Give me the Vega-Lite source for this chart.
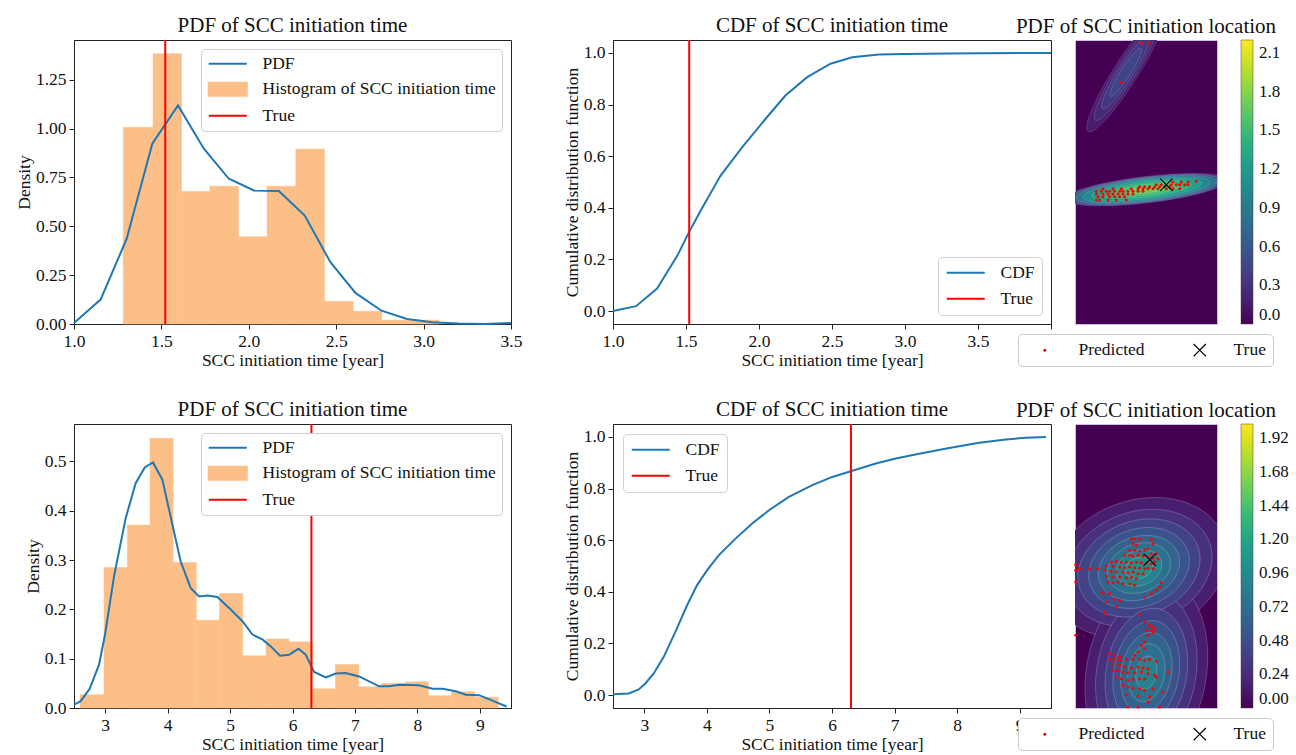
{
  "$schema": "https://vega.github.io/schema/vega-lite/v6.json",
  "padding": {"left": 14, "top": 14, "right": 0, "bottom": 0},
  "background": "white",
  "config": {
    "font": "Liberation Serif",
    "view": {"stroke": "#222", "strokeWidth": 1},
    "axis": {"labelFont": "Liberation Serif", "labelFontSize": 17.5, "labelColor": "#111", "titleFont": "Liberation Serif", "titleFontSize": 17.5, "titleFontWeight": "normal", "titleColor": "#111", "grid": false, "tickColor": "#222", "domainColor": "#222", "tickSize": 5, "labelPadding": 3, "labelFlush": false, "labelOverlap": false, "titlePadding": 2},
    "title": {"font": "Liberation Serif", "fontSize": 21, "fontWeight": "normal", "color": "#111", "anchor": "middle", "offset": 3.5},
    "legend": {"labelFont": "Liberation Serif", "labelFontSize": 17.5, "labelColor": "#111", "labelLimit": 400}
  },
  "columns": 4,
  "spacing": {"row": 100, "column": 24},
  "bounds": "flush",
  "resolve": {
    "scale": {"x": "independent", "y": "independent", "color": "independent", "shape": "independent", "size": "independent"},
    "legend": {"color": "independent", "shape": "independent", "size": "independent"}
  },
  "concat": [
    {
      "width": 437, "height": 284,
      "title": "PDF of SCC initiation time",
      "layer": [
        {
          "data": {"values": [
            {"lo": 1.282, "hi": 1.452, "density": 1.006},
            {"lo": 1.452, "hi": 1.615, "density": 1.383},
            {"lo": 1.615, "hi": 1.777, "density": 0.678},
            {"lo": 1.777, "hi": 1.941, "density": 0.705},
            {"lo": 1.941, "hi": 2.105, "density": 0.447},
            {"lo": 2.105, "hi": 2.269, "density": 0.705},
            {"lo": 2.269, "hi": 2.433, "density": 0.895},
            {"lo": 2.433, "hi": 2.597, "density": 0.116},
            {"lo": 2.597, "hi": 2.761, "density": 0.065},
            {"lo": 2.761, "hi": 2.925, "density": 0.020},
            {"lo": 2.925, "hi": 3.088, "density": 0.020}
          ]},
          "mark": {"type": "rect", "stroke": "#fdbf88", "strokeWidth": 0.5},
          "encoding": {
            "x": {"field": "lo", "type": "quantitative", "scale": {"domain": [1, 3.5], "nice": false, "zero": false}, "axis": {"title": "SCC initiation time [year]", "values": [1, 1.5, 2, 2.5, 3, 3.5], "format": ".1f"}},
            "x2": {"field": "hi"},
            "y": {"field": "density", "type": "quantitative", "scale": {"domain": [0, 1.453], "nice": false}, "axis": {"title": "Density", "values": [0, 0.25, 0.5, 0.75, 1, 1.25], "format": ".2f"}},
            "y2": {"datum": 0},
            "color": {"datum": "Histogram of SCC initiation time", "type": "nominal",
              "scale": {"domain": ["PDF", "Histogram of SCC initiation time", "True"], "range": ["#1f77b4", "#fdbf88", "#ff0000"]},
              "legend": {"title": null, "orient": "top-right", "offset": 9, "symbolType": "M -1 0 L 4.43 0", "symbolSize": 196, "symbolStrokeWidth": 2, "labelOffset": 38, "rowPadding": 5.5, "padding": 6, "fillColor": "white", "strokeColor": "#d0d0d0", "cornerRadius": 4, "labelFontSize": 17.5,
                "encode": {"symbols": {"update": {
                  "shape": {"signal": "datum.value === 'Histogram of SCC initiation time' ? 'M -1 -0.93 L 4.43 -0.93 L 4.43 0.93 L -1 0.93 Z' : 'M -1 0 L 4.43 0'"},
                  "fill": {"signal": "datum.value === 'Histogram of SCC initiation time' ? '#fdbf88' : 'transparent'"},
                  "stroke": {"signal": "datum.value === 'PDF' ? '#1f77b4' : (datum.value === 'True' ? '#ff0000' : 'transparent')"},
                  "strokeWidth": {"value": 2},
                  "opacity": {"value": 1}
                }}}
              }
            }
          }
        },
        {
          "data": {"values": [
            {"t": 1.0, "pdf": 0.005}, {"t": 1.152, "pdf": 0.125}, {"t": 1.301, "pdf": 0.435}, {"t": 1.448, "pdf": 0.922},
            {"t": 1.595, "pdf": 1.118}, {"t": 1.743, "pdf": 0.897}, {"t": 1.886, "pdf": 0.743}, {"t": 2.029, "pdf": 0.683},
            {"t": 2.172, "pdf": 0.680}, {"t": 2.320, "pdf": 0.555}, {"t": 2.467, "pdf": 0.316}, {"t": 2.610, "pdf": 0.159},
            {"t": 2.759, "pdf": 0.068}, {"t": 2.905, "pdf": 0.026}, {"t": 3.048, "pdf": 0.009}, {"t": 3.200, "pdf": 0.002},
            {"t": 3.350, "pdf": 0.0}, {"t": 3.500, "pdf": 0.005}
          ]},
          "mark": {"type": "line", "strokeWidth": 2},
          "encoding": {
            "x": {"field": "t", "type": "quantitative", "title": "SCC initiation time [year]", "scale": {"domain": [1, 3.5], "nice": false, "zero": false}},
            "y": {"field": "pdf", "type": "quantitative", "title": "Density", "scale": {"domain": [0, 1.453], "nice": false}},
            "color": {"datum": "PDF", "type": "nominal",
              "legend": {"title": null, "orient": "top-right", "offset": 9, "symbolType": "M -1 0 L 4.43 0", "symbolSize": 196, "symbolStrokeWidth": 2, "labelOffset": 38, "rowPadding": 5.5, "padding": 6, "fillColor": "white", "strokeColor": "#d0d0d0", "cornerRadius": 4, "labelFontSize": 17.5,
                "encode": {"symbols": {"update": {
                  "shape": {"signal": "datum.value === 'Histogram of SCC initiation time' ? 'M -1 -0.93 L 4.43 -0.93 L 4.43 0.93 L -1 0.93 Z' : 'M -1 0 L 4.43 0'"},
                  "fill": {"signal": "datum.value === 'Histogram of SCC initiation time' ? '#fdbf88' : 'transparent'"},
                  "stroke": {"signal": "datum.value === 'PDF' ? '#1f77b4' : (datum.value === 'True' ? '#ff0000' : 'transparent')"},
                  "strokeWidth": {"value": 2},
                  "opacity": {"value": 1}
                }}}
              }
            }
          }
        },
        {
          "data": {"values": [{"t": 1.522}]},
          "mark": {"type": "rule", "strokeWidth": 2},
          "encoding": {
            "x": {"field": "t", "type": "quantitative", "title": "SCC initiation time [year]"},
            "color": {"datum": "True", "type": "nominal",
              "legend": {"title": null, "orient": "top-right", "offset": 9, "symbolType": "M -1 0 L 4.43 0", "symbolSize": 196, "symbolStrokeWidth": 2, "labelOffset": 38, "rowPadding": 5.5, "padding": 6, "fillColor": "white", "strokeColor": "#d0d0d0", "cornerRadius": 4, "labelFontSize": 17.5,
                "encode": {"symbols": {"update": {
                  "shape": {"signal": "datum.value === 'Histogram of SCC initiation time' ? 'M -1 -0.93 L 4.43 -0.93 L 4.43 0.93 L -1 0.93 Z' : 'M -1 0 L 4.43 0'"},
                  "fill": {"signal": "datum.value === 'Histogram of SCC initiation time' ? '#fdbf88' : 'transparent'"},
                  "stroke": {"signal": "datum.value === 'PDF' ? '#1f77b4' : (datum.value === 'True' ? '#ff0000' : 'transparent')"},
                  "strokeWidth": {"value": 2},
                  "opacity": {"value": 1}
                }}}
              }
            }
          }
        }
      ]
    },
    {
      "width": 54, "height": 284,
      "view": {"stroke": null},
      "data": {"values": []},
      "mark": {"type": "text"},
      "encoding": {}
    },
    {
      "width": 438, "height": 284,
      "title": "CDF of SCC initiation time",
      "layer": [
        {
          "data": {"values": [
            {"t": 1.0, "cdf": 0.0}, {"t": 1.158, "cdf": 0.019}, {"t": 1.302, "cdf": 0.087}, {"t": 1.439, "cdf": 0.213},
            {"t": 1.519, "cdf": 0.304}, {"t": 1.599, "cdf": 0.388}, {"t": 1.736, "cdf": 0.524}, {"t": 1.884, "cdf": 0.634},
            {"t": 2.044, "cdf": 0.744}, {"t": 2.181, "cdf": 0.835}, {"t": 2.330, "cdf": 0.906}, {"t": 2.490, "cdf": 0.958},
            {"t": 2.638, "cdf": 0.983}, {"t": 2.821, "cdf": 0.994}, {"t": 3.004, "cdf": 0.996}, {"t": 3.300, "cdf": 0.998},
            {"t": 4.0, "cdf": 1.0}
          ]},
          "mark": {"type": "line", "strokeWidth": 2},
          "encoding": {
            "x": {"field": "t", "type": "quantitative", "scale": {"domain": [1, 4], "nice": false, "zero": false}, "axis": {"title": "SCC initiation time [year]", "values": [1, 1.5, 2, 2.5, 3, 3.5, 4], "format": ".1f"}},
            "y": {"field": "cdf", "type": "quantitative", "scale": {"domain": [-0.05, 1.05], "nice": false, "zero": false}, "axis": {"title": "Cumulative distribution function", "values": [0, 0.2, 0.4, 0.6, 0.8, 1], "format": ".1f"}},
            "color": {"datum": "CDF", "type": "nominal",
              "scale": {"domain": ["CDF", "True"], "range": ["#1f77b4", "#ff0000"]},
              "legend": {"title": null, "orient": "bottom-right", "offset": 9.5, "symbolType": "M -1 0 L 4.43 0", "symbolSize": 196, "symbolStrokeWidth": 2, "labelOffset": 38, "rowPadding": 7, "padding": 7, "fillColor": "white", "strokeColor": "#d0d0d0", "cornerRadius": 4, "labelFontSize": 17.5}
            }
          }
        },
        {
          "data": {"values": [{"t": 1.522}]},
          "mark": {"type": "rule", "strokeWidth": 2},
          "encoding": {
            "x": {"field": "t", "type": "quantitative", "title": "SCC initiation time [year]"},
            "color": {"datum": "True", "type": "nominal"}
          }
        }
      ]
    },
    {
      "width": 142, "height": 284,
      "title": "PDF of SCC initiation location",
      "view": {"fill": "#440154", "stroke": "#cdbfe0"},
      "resolve": {"scale": {"color": "independent", "size": "independent", "shape": "independent"}},
      "layer": [
        {
          "data": {"values": [
            {"blob": "main", "cx": 220, "cy": 455, "level": 0.35, "r": 242},
            {"blob": "main", "cx": 220, "cy": 455, "level": 0.6, "r": 228},
            {"blob": "main", "cx": 220, "cy": 455, "level": 0.85, "r": 212},
            {"blob": "main", "cx": 220, "cy": 455, "level": 1.05, "r": 192},
            {"blob": "main", "cx": 220, "cy": 455, "level": 1.25, "r": 166},
            {"blob": "main", "cx": 220, "cy": 455, "level": 1.4, "r": 135},
            {"blob": "main", "cx": 220, "cy": 455, "level": 1.55, "r": 100},
            {"blob": "main", "cx": 220, "cy": 455, "level": 1.7, "r": 60},
            {"blob": "upper", "cx": 158, "cy": 103, "level": 0.15, "r": 210},
            {"blob": "upper", "cx": 158, "cy": 103, "level": 0.25, "r": 170},
            {"blob": "upper", "cx": 158, "cy": 103, "level": 0.35, "r": 130},
            {"blob": "upper", "cx": 158, "cy": 103, "level": 0.45, "r": 85}
          ]},
          "mark": {"type": "point", "filled": true, "clip": true, "opacity": 1, "stroke": "white", "strokeOpacity": 0.25, "strokeWidth": 0.6},
          "encoding": {
            "x": {"field": "cx", "type": "quantitative", "scale": {"domain": [6, 432], "nice": false, "zero": false}, "axis": null},
            "y": {"field": "cy", "type": "quantitative", "scale": {"domain": [858, 6], "nice": false, "zero": false}, "axis": null},
            "shape": {"field": "blob", "type": "nominal", "scale": {"domain": ["main", "upper"], "range": ["M -0.993 0.117 A 1 0.16 -6.7 1 1 0.993 -0.117 A 1 0.16 -6.7 1 1 -0.993 0.117 Z", "M -0.536 0.844 A 1 0.17 -57.6 1 1 0.536 -0.844 A 1 0.17 -57.6 1 1 -0.536 0.844 Z"]}, "legend": null},
            "size": {"field": "r", "type": "quantitative", "scale": {"type": "pow", "exponent": 2, "domain": [0, 426], "range": [0, 80656]}, "legend": null},
            "color": {"field": "level", "type": "quantitative", "scale": {"scheme": "viridis", "domain": [0, 2.2]},
              "legend": {"type": "gradient", "orient": "right", "offset": 24, "title": null, "gradientLength": 284, "gradientThickness": 12, "values": [0, 0.3, 0.6, 0.9, 1.2, 1.5, 1.8, 2.1], "format": ".1f", "labelFontSize": 17, "labelOverlap": false, "labelOffset": 6, "gradientStrokeColor": "#444", "gradientStrokeWidth": 0.5, "padding": 0}},
            "order": {"field": "level", "type": "quantitative"}
          }
        },
        {
          "data": {"values": [
            {"x": 300, "y": 432, "kind": "Predicted"}, {"x": 325, "y": 432, "kind": "Predicted"}, {"x": 345, "y": 432, "kind": "Predicted"}, {"x": 370, "y": 430, "kind": "Predicted"},
            {"x": 250, "y": 440, "kind": "Predicted"}, {"x": 265, "y": 440, "kind": "Predicted"}, {"x": 295, "y": 440, "kind": "Predicted"}, {"x": 310, "y": 440, "kind": "Predicted"}, {"x": 320, "y": 440, "kind": "Predicted"}, {"x": 335, "y": 440, "kind": "Predicted"}, {"x": 345, "y": 440, "kind": "Predicted"},
            {"x": 200, "y": 446, "kind": "Predicted"}, {"x": 215, "y": 446, "kind": "Predicted"}, {"x": 230, "y": 446, "kind": "Predicted"}, {"x": 245, "y": 446, "kind": "Predicted"}, {"x": 260, "y": 446, "kind": "Predicted"}, {"x": 275, "y": 446, "kind": "Predicted"}, {"x": 290, "y": 446, "kind": "Predicted"},
            {"x": 90, "y": 452, "kind": "Predicted"}, {"x": 120, "y": 452, "kind": "Predicted"}, {"x": 145, "y": 452, "kind": "Predicted"}, {"x": 175, "y": 452, "kind": "Predicted"}, {"x": 195, "y": 452, "kind": "Predicted"}, {"x": 210, "y": 452, "kind": "Predicted"}, {"x": 225, "y": 452, "kind": "Predicted"}, {"x": 240, "y": 452, "kind": "Predicted"}, {"x": 255, "y": 452, "kind": "Predicted"}, {"x": 280, "y": 452, "kind": "Predicted"}, {"x": 300, "y": 452, "kind": "Predicted"}, {"x": 320, "y": 452, "kind": "Predicted"},
            {"x": 70, "y": 460, "kind": "Predicted"}, {"x": 85, "y": 460, "kind": "Predicted"}, {"x": 100, "y": 460, "kind": "Predicted"}, {"x": 110, "y": 460, "kind": "Predicted"}, {"x": 125, "y": 460, "kind": "Predicted"}, {"x": 140, "y": 460, "kind": "Predicted"}, {"x": 150, "y": 460, "kind": "Predicted"}, {"x": 165, "y": 460, "kind": "Predicted"}, {"x": 180, "y": 460, "kind": "Predicted"}, {"x": 195, "y": 460, "kind": "Predicted"}, {"x": 210, "y": 460, "kind": "Predicted"},
            {"x": 70, "y": 468, "kind": "Predicted"}, {"x": 90, "y": 468, "kind": "Predicted"}, {"x": 105, "y": 468, "kind": "Predicted"}, {"x": 120, "y": 468, "kind": "Predicted"}, {"x": 135, "y": 468, "kind": "Predicted"}, {"x": 150, "y": 468, "kind": "Predicted"}, {"x": 165, "y": 468, "kind": "Predicted"}, {"x": 180, "y": 468, "kind": "Predicted"},
            {"x": 75, "y": 476, "kind": "Predicted"}, {"x": 90, "y": 476, "kind": "Predicted"}, {"x": 110, "y": 476, "kind": "Predicted"}, {"x": 125, "y": 476, "kind": "Predicted"}, {"x": 140, "y": 476, "kind": "Predicted"}, {"x": 155, "y": 476, "kind": "Predicted"},
            {"x": 70, "y": 486, "kind": "Predicted"}, {"x": 80, "y": 486, "kind": "Predicted"}, {"x": 105, "y": 486, "kind": "Predicted"}, {"x": 130, "y": 486, "kind": "Predicted"}, {"x": 160, "y": 486, "kind": "Predicted"},
            {"x": 205, "y": 15, "kind": "Predicted"}, {"x": 228, "y": 15, "kind": "Predicted"}, {"x": 145, "y": 133, "kind": "Predicted"},
            {"x": 280, "y": 440, "kind": "True"}
          ]},
          "mark": {"type": "point", "filled": true, "opacity": 1},
          "encoding": {
            "x": {"field": "x", "type": "quantitative", "scale": {"domain": [6, 432], "nice": false, "zero": false}, "axis": null},
            "y": {"field": "y", "type": "quantitative", "scale": {"domain": [858, 6], "nice": false, "zero": false}, "axis": null},
            "color": {"field": "kind", "type": "nominal", "scale": {"domain": ["Predicted", "True"], "range": ["#ff0000", "#000000"]},
              "legend": {"orient": "none", "legendX": -57, "legendY": 294, "direction": "horizontal", "title": null, "fillColor": "white", "strokeColor": "#c8c8c8", "cornerRadius": 4, "padding": 7, "labelFontSize": 17.5, "symbolOffset": 11, "labelOffset": 25, "columnPadding": 35}},
            "shape": {"field": "kind", "type": "nominal", "scale": {"domain": ["Predicted", "True"], "range": ["circle", "M -1 -0.88 L -0.88 -1 L 0 -0.12 L 0.88 -1 L 1 -0.88 L 0.12 0 L 1 0.88 L 0.88 1 L 0 0.12 L -0.88 1 L -1 0.88 L -0.12 0 Z"]}},
            "size": {"field": "kind", "type": "nominal", "scale": {"type": "point", "padding": 0, "domain": ["Predicted", "True"], "range": [9, 170]}}
          }
        }
      ]
    },
    {
      "width": 437, "height": 284,
      "title": "PDF of SCC initiation time",
      "layer": [
        {
          "data": {"values": [
            {"lo": 2.596, "hi": 2.981, "density": 0.027},
            {"lo": 2.981, "hi": 3.355, "density": 0.285},
            {"lo": 3.355, "hi": 3.718, "density": 0.371},
            {"lo": 3.718, "hi": 4.087, "density": 0.547},
            {"lo": 4.087, "hi": 4.460, "density": 0.295},
            {"lo": 4.460, "hi": 4.829, "density": 0.178},
            {"lo": 4.829, "hi": 5.203, "density": 0.232},
            {"lo": 5.203, "hi": 5.577, "density": 0.106},
            {"lo": 5.577, "hi": 5.945, "density": 0.140},
            {"lo": 5.945, "hi": 6.319, "density": 0.134},
            {"lo": 6.319, "hi": 6.688, "density": 0.039},
            {"lo": 6.688, "hi": 7.062, "density": 0.088},
            {"lo": 7.062, "hi": 7.436, "density": 0.043},
            {"lo": 7.436, "hi": 7.804, "density": 0.050},
            {"lo": 7.804, "hi": 8.178, "density": 0.053},
            {"lo": 8.178, "hi": 8.547, "density": 0.025},
            {"lo": 8.547, "hi": 8.921, "density": 0.033},
            {"lo": 8.921, "hi": 9.295, "density": 0.022}
          ]},
          "mark": {"type": "rect", "stroke": "#fdbf88", "strokeWidth": 0.5},
          "encoding": {
            "x": {"field": "lo", "type": "quantitative", "scale": {"domain": [2.5, 9.5], "nice": false, "zero": false}, "axis": {"title": "SCC initiation time [year]", "values": [3, 4, 5, 6, 7, 8, 9], "format": "d"}},
            "x2": {"field": "hi"},
            "y": {"field": "density", "type": "quantitative", "scale": {"domain": [0, 0.576], "nice": false}, "axis": {"title": "Density", "values": [0, 0.1, 0.2, 0.3, 0.4, 0.5], "format": ".1f"}},
            "y2": {"datum": 0},
            "color": {"datum": "Histogram of SCC initiation time", "type": "nominal",
              "scale": {"domain": ["PDF", "Histogram of SCC initiation time", "True"], "range": ["#1f77b4", "#fdbf88", "#ff0000"]},
              "legend": {"title": null, "orient": "top-right", "offset": 9, "symbolType": "M -1 0 L 4.43 0", "symbolSize": 196, "symbolStrokeWidth": 2, "labelOffset": 38, "rowPadding": 5.5, "padding": 6, "fillColor": "white", "strokeColor": "#d0d0d0", "cornerRadius": 4, "labelFontSize": 17.5,
                "encode": {"symbols": {"update": {
                  "shape": {"signal": "datum.value === 'Histogram of SCC initiation time' ? 'M -1 -0.93 L 4.43 -0.93 L 4.43 0.93 L -1 0.93 Z' : 'M -1 0 L 4.43 0'"},
                  "fill": {"signal": "datum.value === 'Histogram of SCC initiation time' ? '#fdbf88' : 'transparent'"},
                  "stroke": {"signal": "datum.value === 'PDF' ? '#1f77b4' : (datum.value === 'True' ? '#ff0000' : 'transparent')"},
                  "strokeWidth": {"value": 2},
                  "opacity": {"value": 1}
                }}}
              }
            }
          }
        },
        {
          "data": {"values": [
            {"t": 2.5, "pdf": 0.007}, {"t": 2.607, "pdf": 0.014}, {"t": 2.751, "pdf": 0.039}, {"t": 2.901, "pdf": 0.088},
            {"t": 2.997, "pdf": 0.149}, {"t": 3.141, "pdf": 0.267}, {"t": 3.328, "pdf": 0.385}, {"t": 3.488, "pdf": 0.456},
            {"t": 3.633, "pdf": 0.488}, {"t": 3.766, "pdf": 0.498}, {"t": 3.916, "pdf": 0.463}, {"t": 4.076, "pdf": 0.372},
            {"t": 4.209, "pdf": 0.297}, {"t": 4.370, "pdf": 0.243}, {"t": 4.503, "pdf": 0.226}, {"t": 4.637, "pdf": 0.228},
            {"t": 4.797, "pdf": 0.225}, {"t": 4.984, "pdf": 0.203}, {"t": 5.198, "pdf": 0.176}, {"t": 5.358, "pdf": 0.149},
            {"t": 5.518, "pdf": 0.139}, {"t": 5.652, "pdf": 0.125}, {"t": 5.801, "pdf": 0.106}, {"t": 5.945, "pdf": 0.108},
            {"t": 6.095, "pdf": 0.120}, {"t": 6.212, "pdf": 0.108}, {"t": 6.346, "pdf": 0.073}, {"t": 6.533, "pdf": 0.062},
            {"t": 6.693, "pdf": 0.070}, {"t": 6.853, "pdf": 0.071}, {"t": 7.067, "pdf": 0.064}, {"t": 7.388, "pdf": 0.044},
            {"t": 7.548, "pdf": 0.044}, {"t": 7.708, "pdf": 0.047}, {"t": 8.029, "pdf": 0.046}, {"t": 8.242, "pdf": 0.039},
            {"t": 8.403, "pdf": 0.039}, {"t": 8.616, "pdf": 0.034}, {"t": 8.777, "pdf": 0.027}, {"t": 8.990, "pdf": 0.026},
            {"t": 9.204, "pdf": 0.015}, {"t": 9.428, "pdf": 0.003}
          ]},
          "mark": {"type": "line", "strokeWidth": 2},
          "encoding": {
            "x": {"field": "t", "type": "quantitative", "title": "SCC initiation time [year]", "scale": {"domain": [2.5, 9.5], "nice": false, "zero": false}},
            "y": {"field": "pdf", "type": "quantitative", "title": "Density", "scale": {"domain": [0, 0.576], "nice": false}},
            "color": {"datum": "PDF", "type": "nominal",
              "legend": {"title": null, "orient": "top-right", "offset": 9, "symbolType": "M -1 0 L 4.43 0", "symbolSize": 196, "symbolStrokeWidth": 2, "labelOffset": 38, "rowPadding": 5.5, "padding": 6, "fillColor": "white", "strokeColor": "#d0d0d0", "cornerRadius": 4, "labelFontSize": 17.5,
                "encode": {"symbols": {"update": {
                  "shape": {"signal": "datum.value === 'Histogram of SCC initiation time' ? 'M -1 -0.93 L 4.43 -0.93 L 4.43 0.93 L -1 0.93 Z' : 'M -1 0 L 4.43 0'"},
                  "fill": {"signal": "datum.value === 'Histogram of SCC initiation time' ? '#fdbf88' : 'transparent'"},
                  "stroke": {"signal": "datum.value === 'PDF' ? '#1f77b4' : (datum.value === 'True' ? '#ff0000' : 'transparent')"},
                  "strokeWidth": {"value": 2},
                  "opacity": {"value": 1}
                }}}
              }
            }
          }
        },
        {
          "data": {"values": [{"t": 6.303}]},
          "mark": {"type": "rule", "strokeWidth": 2},
          "encoding": {
            "x": {"field": "t", "type": "quantitative", "title": "SCC initiation time [year]"},
            "color": {"datum": "True", "type": "nominal",
              "legend": {"title": null, "orient": "top-right", "offset": 9, "symbolType": "M -1 0 L 4.43 0", "symbolSize": 196, "symbolStrokeWidth": 2, "labelOffset": 38, "rowPadding": 5.5, "padding": 6, "fillColor": "white", "strokeColor": "#d0d0d0", "cornerRadius": 4, "labelFontSize": 17.5,
                "encode": {"symbols": {"update": {
                  "shape": {"signal": "datum.value === 'Histogram of SCC initiation time' ? 'M -1 -0.93 L 4.43 -0.93 L 4.43 0.93 L -1 0.93 Z' : 'M -1 0 L 4.43 0'"},
                  "fill": {"signal": "datum.value === 'Histogram of SCC initiation time' ? '#fdbf88' : 'transparent'"},
                  "stroke": {"signal": "datum.value === 'PDF' ? '#1f77b4' : (datum.value === 'True' ? '#ff0000' : 'transparent')"},
                  "strokeWidth": {"value": 2},
                  "opacity": {"value": 1}
                }}}
              }
            }
          }
        }
      ]
    },
    {
      "width": 54, "height": 284,
      "view": {"stroke": null},
      "data": {"values": []},
      "mark": {"type": "text"},
      "encoding": {}
    },
    {
      "width": 438, "height": 284,
      "title": "CDF of SCC initiation time",
      "layer": [
        {
          "data": {"values": [
            {"t": 2.5, "cdf": 0.003}, {"t": 2.751, "cdf": 0.006}, {"t": 2.911, "cdf": 0.022}, {"t": 3.017, "cdf": 0.045},
            {"t": 3.151, "cdf": 0.084}, {"t": 3.311, "cdf": 0.148}, {"t": 3.497, "cdf": 0.245}, {"t": 3.684, "cdf": 0.348},
            {"t": 3.844, "cdf": 0.426}, {"t": 4.005, "cdf": 0.484}, {"t": 4.192, "cdf": 0.542}, {"t": 4.458, "cdf": 0.606},
            {"t": 4.725, "cdf": 0.665}, {"t": 4.992, "cdf": 0.716}, {"t": 5.311, "cdf": 0.768}, {"t": 5.685, "cdf": 0.813},
            {"t": 6.005, "cdf": 0.845}, {"t": 6.299, "cdf": 0.867}, {"t": 6.699, "cdf": 0.897}, {"t": 7.019, "cdf": 0.916},
            {"t": 7.392, "cdf": 0.935}, {"t": 7.872, "cdf": 0.957}, {"t": 8.352, "cdf": 0.977}, {"t": 8.779, "cdf": 0.990},
            {"t": 9.099, "cdf": 0.997}, {"t": 9.419, "cdf": 1.0}
          ]},
          "mark": {"type": "line", "strokeWidth": 2},
          "encoding": {
            "x": {"field": "t", "type": "quantitative", "scale": {"domain": [2.5, 9.5], "nice": false, "zero": false}, "axis": {"title": "SCC initiation time [year]", "values": [3, 4, 5, 6, 7, 8, 9], "format": "d"}},
            "y": {"field": "cdf", "type": "quantitative", "scale": {"domain": [-0.05, 1.05], "nice": false, "zero": false}, "axis": {"title": "Cumulative distribution function", "values": [0, 0.2, 0.4, 0.6, 0.8, 1], "format": ".1f"}},
            "color": {"datum": "CDF", "type": "nominal",
              "scale": {"domain": ["CDF", "True"], "range": ["#1f77b4", "#ff0000"]},
              "legend": {"title": null, "orient": "top-left", "offset": 10, "symbolType": "M -1 0 L 4.43 0", "symbolSize": 196, "symbolStrokeWidth": 2, "labelOffset": 38, "rowPadding": 7, "padding": 7, "fillColor": "white", "strokeColor": "#d0d0d0", "cornerRadius": 4, "labelFontSize": 17.5}
            }
          }
        },
        {
          "data": {"values": [{"t": 6.303}]},
          "mark": {"type": "rule", "strokeWidth": 2},
          "encoding": {
            "x": {"field": "t", "type": "quantitative", "title": "SCC initiation time [year]"},
            "color": {"datum": "True", "type": "nominal"}
          }
        }
      ]
    },
    {
      "width": 142, "height": 284,
      "title": "PDF of SCC initiation location",
      "view": {"fill": "#440154", "stroke": "#cdbfe0"},
      "resolve": {"scale": {"color": "independent", "size": "independent", "shape": "independent"}},
      "layer": [
        {
          "data": {"values": [
            {"blob": "A", "cx": 198, "cy": 438, "level": 0.16, "r": 270},
            {"blob": "A", "cx": 198, "cy": 438, "level": 0.28, "r": 225},
            {"blob": "A", "cx": 198, "cy": 438, "level": 0.40, "r": 188},
            {"blob": "A", "cx": 198, "cy": 438, "level": 0.52, "r": 155},
            {"blob": "A", "cx": 198, "cy": 438, "level": 0.64, "r": 125},
            {"blob": "A", "cx": 198, "cy": 438, "level": 0.76, "r": 97},
            {"blob": "A", "cx": 198, "cy": 438, "level": 0.88, "r": 70},
            {"blob": "A", "cx": 198, "cy": 438, "level": 1.0, "r": 42},
            {"blob": "B", "cx": 220, "cy": 752, "level": 0.16, "r": 290},
            {"blob": "B", "cx": 220, "cy": 752, "level": 0.28, "r": 240},
            {"blob": "B", "cx": 220, "cy": 752, "level": 0.40, "r": 195},
            {"blob": "B", "cx": 220, "cy": 752, "level": 0.52, "r": 158},
            {"blob": "B", "cx": 220, "cy": 752, "level": 0.64, "r": 122},
            {"blob": "B", "cx": 220, "cy": 752, "level": 0.76, "r": 88},
            {"blob": "B", "cx": 220, "cy": 752, "level": 0.86, "r": 50}
          ]},
          "mark": {"type": "point", "filled": true, "clip": true, "opacity": 1, "stroke": "white", "strokeOpacity": 0.3, "strokeWidth": 0.7},
          "encoding": {
            "x": {"field": "cx", "type": "quantitative", "scale": {"domain": [6, 432], "nice": false, "zero": false}, "axis": null},
            "y": {"field": "cy", "type": "quantitative", "scale": {"domain": [858, 6], "nice": false, "zero": false}, "axis": null},
            "shape": {"field": "blob", "type": "nominal", "scale": {"domain": ["A", "B"], "range": ["M -0.94 0.342 A 1 0.75 -20 1 1 0.94 -0.342 A 1 0.75 -20 1 1 -0.94 0.342 Z", "M -0.174 0.985 A 1 0.62 -80 1 1 0.174 -0.985 A 1 0.62 -80 1 1 -0.174 0.985 Z"]}, "legend": null},
            "size": {"field": "r", "type": "quantitative", "scale": {"type": "pow", "exponent": 2, "domain": [0, 426], "range": [0, 80656]}, "legend": null},
            "color": {"field": "level", "type": "quantitative", "scale": {"scheme": "viridis", "domain": [0, 2.02]},
              "legend": {"type": "gradient", "orient": "right", "offset": 24, "title": null, "gradientLength": 284, "gradientThickness": 12, "values": [0, 0.24, 0.48, 0.72, 0.96, 1.2, 1.44, 1.68, 1.92], "format": ".2f", "labelFontSize": 17, "labelOverlap": false, "labelOffset": 6, "gradientStrokeColor": "#444", "gradientStrokeWidth": 0.5, "padding": 0}},
            "order": {"field": "level", "type": "quantitative"}
          }
        },
        {
          "data": {"values": [
            {"x": 175, "y": 350, "kind": "Predicted"}, {"x": 185, "y": 350, "kind": "Predicted"}, {"x": 200, "y": 352, "kind": "Predicted"}, {"x": 235, "y": 352, "kind": "Predicted"}, {"x": 240, "y": 365, "kind": "Predicted"}, {"x": 180, "y": 365, "kind": "Predicted"}, {"x": 190, "y": 370, "kind": "Predicted"},
            {"x": 170, "y": 385, "kind": "Predicted"}, {"x": 185, "y": 385, "kind": "Predicted"}, {"x": 200, "y": 388, "kind": "Predicted"}, {"x": 215, "y": 385, "kind": "Predicted"}, {"x": 225, "y": 380, "kind": "Predicted"}, {"x": 235, "y": 395, "kind": "Predicted"}, {"x": 250, "y": 395, "kind": "Predicted"},
            {"x": 155, "y": 400, "kind": "Predicted"}, {"x": 170, "y": 400, "kind": "Predicted"}, {"x": 180, "y": 402, "kind": "Predicted"}, {"x": 195, "y": 400, "kind": "Predicted"}, {"x": 210, "y": 403, "kind": "Predicted"}, {"x": 225, "y": 405, "kind": "Predicted"}, {"x": 240, "y": 408, "kind": "Predicted"}, {"x": 255, "y": 410, "kind": "Predicted"},
            {"x": 115, "y": 420, "kind": "Predicted"}, {"x": 130, "y": 418, "kind": "Predicted"}, {"x": 145, "y": 420, "kind": "Predicted"}, {"x": 160, "y": 420, "kind": "Predicted"}, {"x": 175, "y": 422, "kind": "Predicted"}, {"x": 190, "y": 420, "kind": "Predicted"}, {"x": 205, "y": 422, "kind": "Predicted"}, {"x": 220, "y": 423, "kind": "Predicted"}, {"x": 235, "y": 425, "kind": "Predicted"}, {"x": 245, "y": 420, "kind": "Predicted"},
            {"x": 100, "y": 432, "kind": "Predicted"}, {"x": 120, "y": 433, "kind": "Predicted"}, {"x": 140, "y": 435, "kind": "Predicted"}, {"x": 155, "y": 437, "kind": "Predicted"}, {"x": 170, "y": 435, "kind": "Predicted"}, {"x": 185, "y": 437, "kind": "Predicted"}, {"x": 200, "y": 438, "kind": "Predicted"}, {"x": 215, "y": 440, "kind": "Predicted"}, {"x": 225, "y": 438, "kind": "Predicted"}, {"x": 240, "y": 440, "kind": "Predicted"},
            {"x": 8, "y": 428, "kind": "Predicted"}, {"x": 20, "y": 440, "kind": "Predicted"}, {"x": 50, "y": 440, "kind": "Predicted"}, {"x": 75, "y": 440, "kind": "Predicted"}, {"x": 95, "y": 445, "kind": "Predicted"}, {"x": 115, "y": 448, "kind": "Predicted"}, {"x": 130, "y": 450, "kind": "Predicted"}, {"x": 150, "y": 450, "kind": "Predicted"}, {"x": 165, "y": 452, "kind": "Predicted"}, {"x": 180, "y": 450, "kind": "Predicted"}, {"x": 195, "y": 455, "kind": "Predicted"}, {"x": 210, "y": 455, "kind": "Predicted"},
            {"x": 8, "y": 445, "kind": "Predicted"}, {"x": 100, "y": 462, "kind": "Predicted"}, {"x": 120, "y": 465, "kind": "Predicted"}, {"x": 140, "y": 465, "kind": "Predicted"}, {"x": 160, "y": 468, "kind": "Predicted"}, {"x": 175, "y": 466, "kind": "Predicted"}, {"x": 190, "y": 470, "kind": "Predicted"},
            {"x": 105, "y": 480, "kind": "Predicted"}, {"x": 120, "y": 482, "kind": "Predicted"}, {"x": 135, "y": 480, "kind": "Predicted"}, {"x": 150, "y": 485, "kind": "Predicted"}, {"x": 170, "y": 485, "kind": "Predicted"}, {"x": 185, "y": 490, "kind": "Predicted"}, {"x": 265, "y": 482, "kind": "Predicted"}, {"x": 260, "y": 495, "kind": "Predicted"},
            {"x": 8, "y": 480, "kind": "Predicted"}, {"x": 90, "y": 512, "kind": "Predicted"}, {"x": 110, "y": 515, "kind": "Predicted"}, {"x": 125, "y": 532, "kind": "Predicted"}, {"x": 100, "y": 540, "kind": "Predicted"}, {"x": 140, "y": 535, "kind": "Predicted"}, {"x": 235, "y": 515, "kind": "Predicted"}, {"x": 250, "y": 505, "kind": "Predicted"}, {"x": 215, "y": 525, "kind": "Predicted"},
            {"x": 95, "y": 570, "kind": "Predicted"}, {"x": 100, "y": 578, "kind": "Predicted"}, {"x": 130, "y": 555, "kind": "Predicted"}, {"x": 200, "y": 578, "kind": "Predicted"},
            {"x": 215, "y": 600, "kind": "Predicted"}, {"x": 230, "y": 610, "kind": "Predicted"}, {"x": 240, "y": 615, "kind": "Predicted"}, {"x": 245, "y": 620, "kind": "Predicted"}, {"x": 235, "y": 625, "kind": "Predicted"}, {"x": 220, "y": 625, "kind": "Predicted"}, {"x": 240, "y": 632, "kind": "Predicted"}, {"x": 225, "y": 640, "kind": "Predicted"}, {"x": 215, "y": 660, "kind": "Predicted"}, {"x": 205, "y": 670, "kind": "Predicted"}, {"x": 215, "y": 680, "kind": "Predicted"}, {"x": 195, "y": 690, "kind": "Predicted"}, {"x": 185, "y": 700, "kind": "Predicted"},
            {"x": 110, "y": 695, "kind": "Predicted"}, {"x": 125, "y": 700, "kind": "Predicted"}, {"x": 140, "y": 705, "kind": "Predicted"}, {"x": 110, "y": 712, "kind": "Predicted"}, {"x": 125, "y": 712, "kind": "Predicted"}, {"x": 140, "y": 715, "kind": "Predicted"}, {"x": 160, "y": 712, "kind": "Predicted"}, {"x": 180, "y": 712, "kind": "Predicted"}, {"x": 200, "y": 712, "kind": "Predicted"}, {"x": 215, "y": 715, "kind": "Predicted"}, {"x": 230, "y": 712, "kind": "Predicted"}, {"x": 250, "y": 718, "kind": "Predicted"}, {"x": 285, "y": 750, "kind": "Predicted"},
            {"x": 120, "y": 725, "kind": "Predicted"}, {"x": 140, "y": 730, "kind": "Predicted"}, {"x": 155, "y": 735, "kind": "Predicted"}, {"x": 175, "y": 738, "kind": "Predicted"}, {"x": 195, "y": 735, "kind": "Predicted"}, {"x": 210, "y": 738, "kind": "Predicted"}, {"x": 225, "y": 740, "kind": "Predicted"}, {"x": 120, "y": 745, "kind": "Predicted"}, {"x": 135, "y": 745, "kind": "Predicted"}, {"x": 150, "y": 750, "kind": "Predicted"}, {"x": 165, "y": 752, "kind": "Predicted"}, {"x": 185, "y": 752, "kind": "Predicted"}, {"x": 205, "y": 750, "kind": "Predicted"}, {"x": 225, "y": 755, "kind": "Predicted"}, {"x": 245, "y": 760, "kind": "Predicted"},
            {"x": 130, "y": 765, "kind": "Predicted"}, {"x": 145, "y": 770, "kind": "Predicted"}, {"x": 165, "y": 775, "kind": "Predicted"}, {"x": 180, "y": 772, "kind": "Predicted"}, {"x": 200, "y": 770, "kind": "Predicted"}, {"x": 215, "y": 772, "kind": "Predicted"}, {"x": 250, "y": 765, "kind": "Predicted"},
            {"x": 150, "y": 790, "kind": "Predicted"}, {"x": 165, "y": 795, "kind": "Predicted"}, {"x": 180, "y": 798, "kind": "Predicted"}, {"x": 200, "y": 800, "kind": "Predicted"}, {"x": 215, "y": 805, "kind": "Predicted"}, {"x": 240, "y": 800, "kind": "Predicted"}, {"x": 270, "y": 810, "kind": "Predicted"},
            {"x": 160, "y": 818, "kind": "Predicted"}, {"x": 195, "y": 822, "kind": "Predicted"}, {"x": 230, "y": 825, "kind": "Predicted"}, {"x": 165, "y": 855, "kind": "Predicted"}, {"x": 195, "y": 855, "kind": "Predicted"}, {"x": 225, "y": 840, "kind": "Predicted"}, {"x": 260, "y": 855, "kind": "Predicted"}, {"x": 8, "y": 640, "kind": "Predicted"},
            {"x": 230, "y": 413, "kind": "True"}
          ]},
          "mark": {"type": "point", "filled": true, "opacity": 1},
          "encoding": {
            "x": {"field": "x", "type": "quantitative", "scale": {"domain": [6, 432], "nice": false, "zero": false}, "axis": null},
            "y": {"field": "y", "type": "quantitative", "scale": {"domain": [858, 6], "nice": false, "zero": false}, "axis": null},
            "color": {"field": "kind", "type": "nominal", "scale": {"domain": ["Predicted", "True"], "range": ["#ff0000", "#000000"]},
              "legend": {"orient": "none", "legendX": -57, "legendY": 294, "direction": "horizontal", "title": null, "fillColor": "white", "strokeColor": "#c8c8c8", "cornerRadius": 4, "padding": 7, "labelFontSize": 17.5, "symbolOffset": 11, "labelOffset": 25, "columnPadding": 35}},
            "shape": {"field": "kind", "type": "nominal", "scale": {"domain": ["Predicted", "True"], "range": ["circle", "M -1 -0.88 L -0.88 -1 L 0 -0.12 L 0.88 -1 L 1 -0.88 L 0.12 0 L 1 0.88 L 0.88 1 L 0 0.12 L -0.88 1 L -1 0.88 L -0.12 0 Z"]}},
            "size": {"field": "kind", "type": "nominal", "scale": {"type": "point", "padding": 0, "domain": ["Predicted", "True"], "range": [9, 170]}}
          }
        }
      ]
    }
  ]
}
